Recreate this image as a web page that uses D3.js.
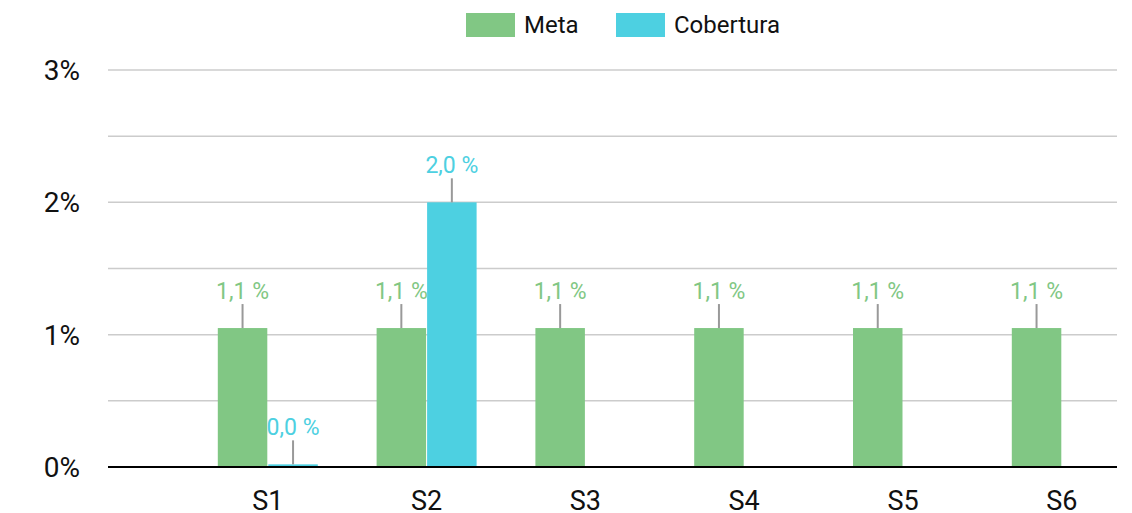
<!DOCTYPE html>
<html>
<head>
<meta charset="utf-8">
<script src="https://cdn.jsdelivr.net/npm/d3@7"></script>
<style>
  html, body { margin: 0; padding: 0; background: #fff; }
  svg { display: block; font-family: Roboto, "Noto Sans", sans-serif; }
</style>
</head>
<body>
<svg id="chart" width="1132" height="513"></svg>
<script>
const categories = ["S1", "S2", "S3", "S4", "S5", "S6"];
const seriesNames = ["Meta", "Cobertura"];
const metaValues = [1.05, 1.05, 1.05, 1.05, 1.05, 1.05];
const coberturaValues = [0.02, 2.0, null, null, null, null];
const yTicks = [0, 0.5, 1, 1.5, 2, 2.5, 3];
const yTickLabels = ["0%", "", "1%", "", "2%", "", "3%"];
const colors = { "Meta": "#81c784", "Cobertura": "#4dd0e1" };

const svg = d3.select("#chart");
const plotLeft = 108, plotRight = 1117, plotTop = 70, plotBottom = 467;
const step = 158.8;

const x0 = d3.scaleBand().domain(categories)
  .range([plotLeft + step / 2 + 1, plotLeft + step / 2 + 1 + categories.length * step])
  .paddingInner(0).paddingOuter(0);
const x1 = d3.scaleBand().domain(seriesNames).range([-50, 50]).paddingInner(0.02);
const y = d3.scaleLinear().domain([0, 3]).range([plotBottom, plotTop]);

// gridlines
svg.append("g").selectAll("line").data(yTicks.filter(d => d > 0)).join("line")
  .attr("x1", plotLeft).attr("x2", plotRight)
  .attr("y1", d => y(d)).attr("y2", d => y(d))
  .attr("stroke", "#cccccc").attr("stroke-width", 1.5);

// y labels
svg.append("g").selectAll("text").data(yTicks).join("text")
  .attr("x", 80).attr("y", d => y(d))
  .attr("dy", "0.36em")
  .attr("text-anchor", "end")
  .attr("font-size", 28).attr("fill", "#111")
  .text((d, i) => yTickLabels[i]);

const data = [];
categories.forEach((c, i) => {
  data.push({ cat: c, series: "Meta", value: metaValues[i] });
  if (coberturaValues[i] != null) data.push({ cat: c, series: "Cobertura", value: coberturaValues[i] });
});

const barX = d => x0(d.cat) + x0.bandwidth() / 2 + x1(d.series);

svg.append("g").selectAll("rect").data(data).join("rect")
  .attr("x", barX).attr("width", x1.bandwidth())
  .attr("y", d => y(d.value)).attr("height", d => y(0) - y(d.value))
  .attr("fill", d => colors[d.series]);

// baseline
svg.append("line").attr("x1", plotLeft).attr("x2", plotRight)
  .attr("y1", y(0)).attr("y2", y(0)).attr("stroke", "#000").attr("stroke-width", 2);

// data label leader ticks
svg.append("g").selectAll("line").data(data).join("line")
  .attr("x1", d => barX(d) + x1.bandwidth() / 2).attr("x2", d => barX(d) + x1.bandwidth() / 2)
  .attr("y1", d => y(d.value) - 24).attr("y2", d => y(d.value))
  .attr("stroke", "#999").attr("stroke-width", 2);

svg.append("g").selectAll("text").data(data).join("text")
  .attr("x", d => barX(d) + x1.bandwidth() / 2)
  .attr("y", d => y(d.value) - 29)
  .attr("text-anchor", "middle").attr("font-size", 23)
  .attr("fill", d => colors[d.series])
  .text(d => d.value.toFixed(1).replace(".", ",") + " %");

// x labels
svg.append("g").selectAll("text").data(categories).join("text")
  .attr("x", d => x0(d) + x0.bandwidth() / 2).attr("y", 510)
  .attr("text-anchor", "middle").attr("font-size", 27).attr("fill", "#111")
  .text(d => d);

// legend
const legendX = [466, 616];
const lg = svg.append("g").selectAll("g").data(seriesNames).join("g")
  .attr("transform", (d, i) => `translate(${legendX[i]},13)`);
lg.append("rect").attr("width", 49).attr("height", 24).attr("fill", d => colors[d]);
lg.append("text").attr("x", 58).attr("y", 20).attr("font-size", 24).attr("fill", "#111").text(d => d);
</script>
</body>
</html>
